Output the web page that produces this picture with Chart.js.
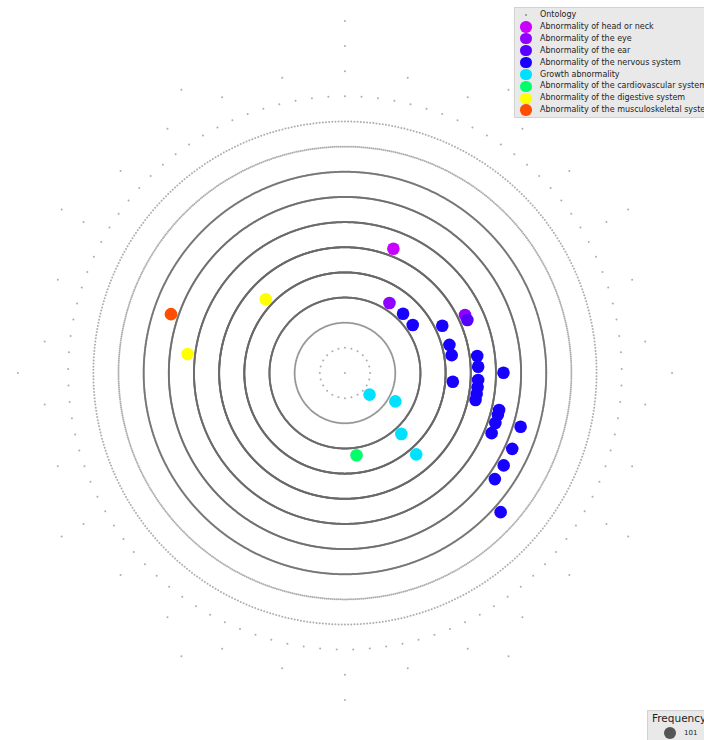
<!DOCTYPE html>
<html>
<head>
<meta charset="utf-8">
<script src="https://cdn.jsdelivr.net/npm/chart.js@4/dist/chart.umd.min.js"></script>
<style>
  html, body { margin: 0; padding: 0; background: #ffffff; overflow: hidden; }
  #wrap { position: relative; width: 704px; height: 740px; overflow: hidden; }
  #plot { display: block; }
  .box {
    position: absolute; background: #e9e9e9; border: 1px solid #d2d2d2;
    font-family: "DejaVu Sans", sans-serif; color: #1e1e1e; box-sizing: border-box;
  }
  #legend { left: 514px; top: 7px; width: 210px; height: 111px; font-size: 8px; }
  .row { position: absolute; left: 0; height: 12px; line-height: 12px; white-space: nowrap; }
  .mark { position: absolute; border-radius: 50%; }
  .label { position: absolute; left: 25px; top: 0; }
  #freq { left: 647px; top: 710px; width: 80px; height: 40px; }
  #freq .title { position: absolute; left: 4px; top: 1px; font-size: 10.5px; line-height: 13px; }
  #freq .val { position: absolute; left: 36px; top: 17px; font-size: 7px; line-height: 10px; }
</style>
</head>
<body>
<div id="wrap">
  <canvas id="plot" width="704" height="740"></canvas>
  <div id="legend" class="box"></div>
  <div id="freq" class="box"><div class="title">Frequency</div><div class="mark" id="freqMark"></div><div class="val" id="freqVal"></div></div>
</div>
<script>
// ---- Ontology: number of terms found at each depth (depth 0 = root) ----
const ontologyDepths = [0, 1, 2, 3, 4, 5, 6, 7, 8, 9, 10, 11, 12, 13, 14];
const termsPerDepth  = [1, 24, 280, 1500, 2600, 3200, 3000, 2600, 2300, 700, 500, 105, 30, 12, 1];

// ---- Annotated phenotypes: ontology depth and angular position (degrees) ----
const categories = [
  "Abnormality of head or neck",
  "Abnormality of the eye",
  "Abnormality of the ear",
  "Abnormality of the nervous system",
  "Growth abnormality",
  "Abnormality of the cardiovascular system",
  "Abnormality of the digestive system",
  "Abnormality of the musculoskeletal system"
];
const headNeckDepth = [5];
const headNeckAngle = [68.7];
const eyeDepth = [3, 5];
const eyeAngle = [57.6, 25.8];
const earDepth = [5];
const earAngle = [23.4];
const nervousDepth = [3, 3, 4, 4, 4, 4, 5, 5, 5, 5, 5, 5, 6, 6, 6, 6, 6, 7, 7, 7, 7, 8];
const nervousAngle = [45.6, 35.3, 25.9, 15.1, 9.5, -4.6, 7.3, 2.7, -3.0, -6.1, -9.1, -11.7,
                      0.1, -13.5, -15.3, -18.4, -22.3, -17.0, -24.4, -30.2, -35.3, -41.8];
const growthDepth = [1, 2, 3, 4];
const growthAngle = [-41.3, -29.4, -47.2, -48.8];
const cardioDepth = [3];
const cardioAngle = [-82.0];
const digestiveDepth = [4, 6];
const digestiveAngle = [137.0, 173.1];
const musculoDepth = [7];
const musculoAngle = [161.3];
const frequencyLabels = ["101"];

// ---- styling ----
const categoryColors = ["#c900ff", "#9000ff", "#5600ff", "#1800ff", "#00e1ff", "#00ff6a", "#ffff00", "#ff4e00"];
const ontologyColor = "rgba(105,105,105,0.55)";
const markerRadius = 6.3;
const ringOffset = 0.3;   // phenotype marks sit just outside their depth ring

const rad = d => d * Math.PI / 180;
function polar(depths, angles, offset) {
  return depths.map((d, i) => ({ x: (d + offset) * Math.cos(rad(angles[i])), y: (d + offset) * Math.sin(rad(angles[i])) }));
}

// terms at each depth are spread evenly around their ring, starting from the top
const ontologyPoints = [];
ontologyDepths.forEach((d, k) => {
  const n = termsPerDepth[k];
  for (let i = 0; i < n; i++) {
    const a = 90 + i * 360 / n;
    ontologyPoints.push({ x: d * Math.cos(rad(a)), y: d * Math.sin(rad(a)) });
  }
});

const phenoSeries = [
  [headNeckDepth, headNeckAngle], [eyeDepth, eyeAngle], [earDepth, earAngle],
  [nervousDepth, nervousAngle], [growthDepth, growthAngle], [cardioDepth, cardioAngle],
  [digestiveDepth, digestiveAngle], [musculoDepth, musculoAngle]
];

const datasets = [{
  label: "Ontology",
  data: ontologyPoints,
  pointRadius: 1.0,
  pointBackgroundColor: ontologyColor,
  pointBorderWidth: 0,
  order: 10
}];
phenoSeries.forEach(([dep, ang], i) => {
  datasets.push({
    label: categories[i],
    data: polar(dep, ang, ringOffset),
    pointRadius: markerRadius,
    pointBackgroundColor: categoryColors[i],
    pointBorderWidth: 0,
    order: 8 - i
  });
});

new Chart(document.getElementById("plot"), {
  type: "scatter",
  data: { datasets },
  options: {
    responsive: false,
    animation: false,
    events: [],
    layout: { padding: 0, autoPadding: false },
    scales: {
      x: { type: "linear", display: false, min: -13.71, max: 14.27 },
      y: { type: "linear", display: false, min: -14.59, max: 14.83 }
    },
    plugins: { legend: { display: false }, tooltip: { enabled: false } }
  }
});

// ---- legend boxes ----
const legend = document.getElementById("legend");
const entries = [{ name: "Ontology", color: "#8a8a8a", r: 1.2 }]
  .concat(categories.map((c, i) => ({ name: c, color: categoryColors[i], r: 5.7 })));
entries.forEach((e, i) => {
  const row = document.createElement("div");
  row.className = "row";
  row.style.top = (1 + i * 11.9) + "px";
  row.style.width = "100%";
  const m = document.createElement("div");
  m.className = "mark";
  m.style.width = m.style.height = (2 * e.r) + "px";
  m.style.left = (11 - e.r) + "px";
  m.style.top = (6 - e.r) + "px";
  m.style.background = e.color;
  const t = document.createElement("div");
  t.className = "label";
  t.textContent = e.name;
  row.appendChild(m); row.appendChild(t);
  legend.appendChild(row);
});
const fm = document.getElementById("freqMark");
fm.style.width = fm.style.height = "12px";
fm.style.left = "16px"; fm.style.top = "16px";
fm.style.background = "#555555";
document.getElementById("freqVal").textContent = frequencyLabels[0];
</script>
</body>
</html>
